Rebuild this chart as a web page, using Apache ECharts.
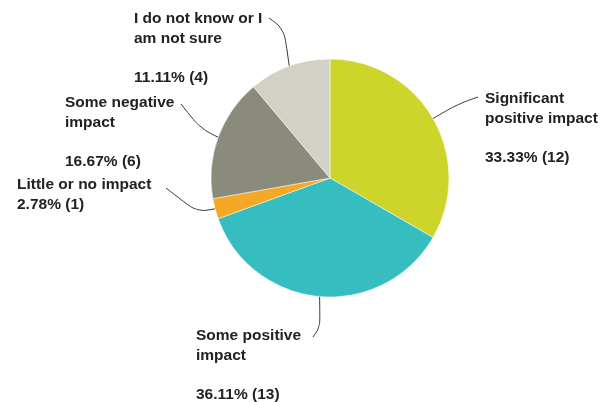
<!DOCTYPE html>
<html>
<head>
<meta charset="utf-8">
<script src="https://cdn.jsdelivr.net/npm/echarts@6/dist/echarts.min.js"></script>
<style>
    html, body { margin: 0; padding: 0; background: #fff; }
    #chart { width: 613px; height: 402px; }
</style>
</head>
<body>
<div id="chart"></div>
<script>
(function () {
    'use strict';

    // survey answers, clockwise from 12 o'clock
    var answerNames = [
        'Significant\npositive impact',
        'Some positive\nimpact',
        'Little or no impact',
        'Some negative\nimpact',
        'I do not know or I\nam not sure'
    ];
    var answerCounts = [12, 13, 1, 6, 4];
    var answerColors = ['#cdd52b', '#35bdbf', '#f4a825', '#8b8b7c', '#d3d1c5'];

    // where each label sits and where its leader line bends / ends
    var labelSpots = [
        { x: 485, y: 89, bend: [458, 104], end: [478, 97] },
        { x: 196, y: 326, bend: [320, 327], end: [313, 337] },
        { x: 17, y: 175, bend: [197, 212], end: [166, 188] },
        { x: 65, y: 93, bend: [200, 128], end: [181, 104] },
        { x: 134, y: 9, bend: [284, 29], end: [269, 18] }
    ];

    var answerData = [];
    for (var a = 0; a < answerNames.length; a++) {
        answerData.push({
            value: answerCounts[a],
            name: answerNames[a],
            itemStyle: { color: answerColors[a] }
        });
    }

    var chart = echarts.init(document.getElementById('chart'), null, { renderer: 'canvas' });

    chart.setOption({
        animation: false,
        series: [{
            type: 'pie',
            radius: 119,
            center: [330, 178],
            startAngle: 90,
            clockwise: true,
            data: answerData,
            itemStyle: {
                borderColor: '#ffffff',
                borderWidth: 0.5
            },
            label: {
                show: true,
                position: 'outside',
                color: '#222222',
                fontFamily: 'Liberation Sans, Arial, sans-serif',
                fontWeight: 'bold',
                fontSize: 15.5,
                lineHeight: 19.5,
                formatter: function (p) {
                    var gap = p.name.indexOf('\n') >= 0 ? '\n\n' : '\n';
                    return p.name + gap + p.percent.toFixed(2) + '% (' + p.value + ')';
                }
            },
            labelLine: {
                show: true,
                smooth: 0.35,
                lineStyle: { color: '#333333', width: 1 }
            },
            labelLayout: function (params) {
                var spot = labelSpots[params.dataIndex];
                var start = params.labelLinePoints[0];
                return {
                    x: spot.x,
                    y: spot.y,
                    align: 'left',
                    verticalAlign: 'top',
                    labelLinePoints: [start, spot.bend, spot.end]
                };
            }
        }]
    });
}());
</script>
</body>
</html>
